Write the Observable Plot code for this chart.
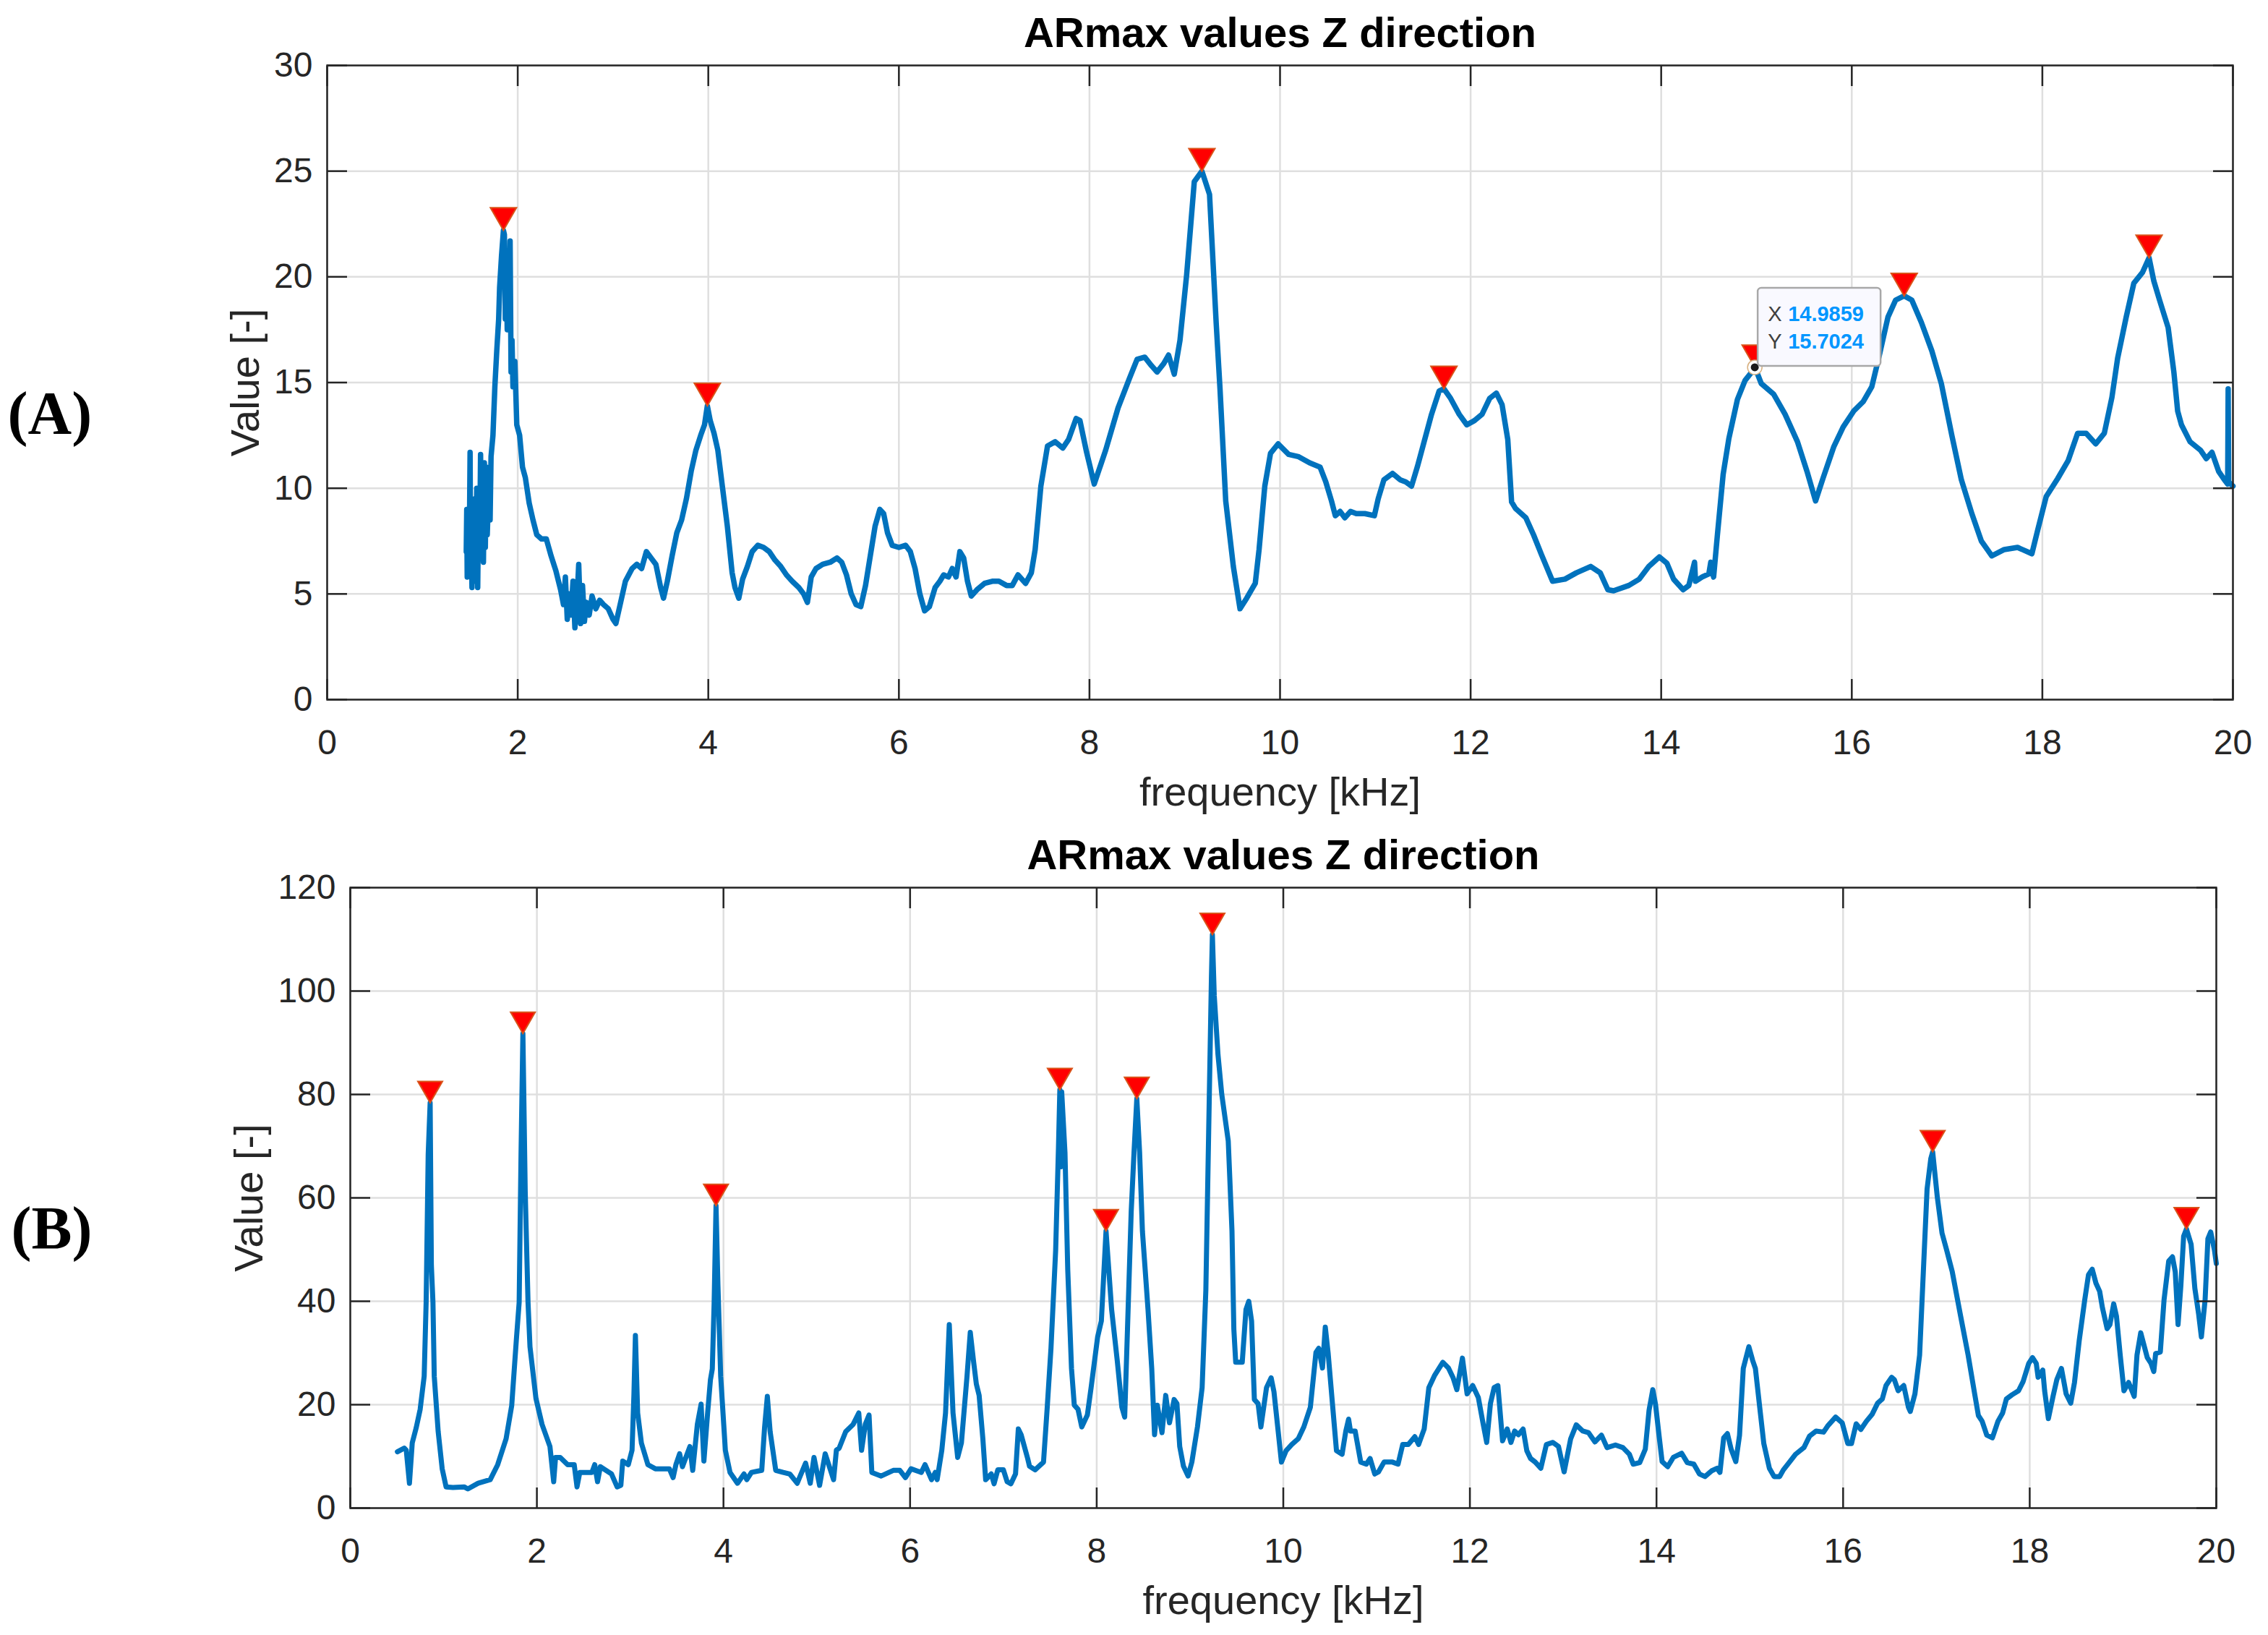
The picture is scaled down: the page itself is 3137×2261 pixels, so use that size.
<!DOCTYPE html>
<html>
<head>
<meta charset="utf-8">
<script src="https://cdn.jsdelivr.net/npm/d3@7"></script>
<script src="https://cdn.jsdelivr.net/npm/@observablehq/plot@0.6"></script>
<style>
  html, body { margin: 0; padding: 0; background: white; overflow: hidden; }
  #chart svg { display: block; }
</style>
</head>
<body>
<div id="chart"></div>
<script>
// ---- panel A: frequency [kHz] / value
const freqA = [1.46,1.465,1.47,1.48,1.49,1.50,1.505,1.51,1.52,1.53,1.54,1.55,1.56,1.57,1.58,1.59,1.60,1.61,1.62,1.63,1.64,1.65,1.66,1.67,1.68,1.70,1.71,1.72,1.74,1.76,1.78,1.80,1.81,1.83,1.85,1.86,1.87,1.88,1.89,1.91,1.92,1.93,1.94,1.95,1.97,1.99,2.02,2.05,2.08,2.12,2.16,2.20,2.25,2.30,2.35,2.40,2.45,2.48,2.50,2.52,2.54,2.56,2.58,2.60,2.62,2.64,2.66,2.68,2.70,2.72,2.75,2.78,2.82,2.86,2.90,2.95,3.00,3.03,3.08,3.13,3.20,3.25,3.30,3.35,3.40,3.45,3.50,3.53,3.57,3.62,3.67,3.72,3.77,3.82,3.87,3.92,3.96,3.99,4.02,4.06,4.10,4.15,4.20,4.25,4.28,4.32,4.36,4.41,4.46,4.52,4.58,4.64,4.70,4.76,4.82,4.88,4.95,5.00,5.04,5.08,5.13,5.20,5.28,5.35,5.40,5.45,5.50,5.55,5.60,5.65,5.70,5.75,5.80,5.84,5.88,5.93,6.00,6.07,6.12,6.17,6.22,6.27,6.32,6.38,6.43,6.47,6.52,6.56,6.60,6.64,6.68,6.72,6.76,6.82,6.90,6.98,7.05,7.13,7.19,7.25,7.33,7.39,7.43,7.49,7.56,7.64,7.72,7.78,7.86,7.90,7.97,8.05,8.17,8.30,8.42,8.50,8.58,8.65,8.71,8.78,8.83,8.89,8.95,9.02,9.10,9.18,9.26,9.33,9.37,9.43,9.51,9.58,9.65,9.74,9.78,9.84,9.90,9.98,10.09,10.19,10.31,10.42,10.48,10.54,10.58,10.63,10.68,10.74,10.80,10.89,10.99,11.03,11.09,11.18,11.26,11.32,11.38,11.44,11.50,11.59,11.67,11.72,11.79,11.88,11.96,12.04,12.12,12.20,12.27,12.33,12.39,12.43,12.47,12.58,12.66,12.74,12.86,12.99,13.11,13.26,13.36,13.44,13.50,13.66,13.77,13.87,13.98,14.06,14.13,14.23,14.29,14.35,14.36,14.43,14.50,14.52,14.55,14.59,14.65,14.71,14.80,14.88,14.986,15.05,15.18,15.30,15.43,15.53,15.62,15.70,15.81,15.91,16.02,16.12,16.21,16.29,16.38,16.46,16.55,16.63,16.73,16.84,16.94,17.05,17.15,17.26,17.36,17.47,17.60,17.74,17.89,17.95,18.04,18.16,18.27,18.37,18.46,18.56,18.65,18.73,18.79,18.88,18.96,19.05,19.12,19.17,19.23,19.32,19.38,19.42,19.46,19.55,19.66,19.72,19.78,19.85,19.91,19.945,19.95,19.955,20.0];
const valueA = [7.0,9.0,5.8,8.5,6.0,11.7,6.2,9.0,5.3,8.8,5.6,9.5,6.5,10.0,5.3,9.8,6.8,11.6,7.0,9.5,6.5,11.2,7.2,11.0,7.8,10.5,8.5,11.5,12.5,14.8,16.5,18.0,19.5,21.0,22.2,22.0,18.0,20.5,17.5,19.0,21.7,15.5,17.0,14.8,16.0,13.0,12.5,11.0,10.5,9.3,8.5,7.8,7.6,7.6,6.8,6.1,5.2,4.5,5.8,3.8,5.0,4.0,5.6,3.4,4.5,6.4,3.6,5.4,3.7,4.6,4.0,4.9,4.3,4.7,4.5,4.3,3.8,3.6,4.6,5.6,6.2,6.4,6.2,7.0,6.7,6.4,5.3,4.8,5.6,6.8,7.9,8.5,9.5,10.8,11.8,12.5,13.0,13.9,13.2,12.6,11.8,10.0,8.2,6.0,5.3,4.8,5.7,6.3,7.0,7.3,7.2,7.0,6.6,6.3,5.9,5.6,5.3,5.0,4.6,5.8,6.2,6.4,6.5,6.7,6.5,5.9,5.0,4.5,4.4,5.4,6.8,8.2,9.0,8.8,7.9,7.3,7.2,7.3,7.0,6.2,5.0,4.2,4.4,5.3,5.6,5.9,5.8,6.2,5.8,7.0,6.7,5.6,4.9,5.2,5.5,5.6,5.6,5.4,5.4,5.9,5.5,6.0,7.1,10.1,12.0,12.2,11.9,12.3,13.3,13.2,11.7,10.2,11.8,13.8,15.2,16.1,16.2,15.8,15.5,15.9,16.3,15.4,17.0,20.1,24.5,25.0,23.9,17.8,14.7,9.4,6.3,4.3,4.8,5.5,7.1,10.1,11.65,12.1,11.6,11.5,11.2,11.0,10.3,9.4,8.7,8.9,8.6,8.9,8.8,8.8,8.7,9.5,10.4,10.7,10.4,10.3,10.1,11.0,12.0,13.5,14.6,14.7,14.25,13.5,13.0,13.2,13.5,14.25,14.5,13.95,12.3,9.35,9.05,8.6,7.8,6.9,5.6,5.7,6.0,6.3,6.0,5.2,5.15,5.4,5.7,6.3,6.75,6.45,5.7,5.2,5.4,6.5,5.6,5.8,5.95,6.5,5.8,7.8,10.65,12.35,14.2,15.1,15.7,14.95,14.45,13.5,12.2,10.8,9.4,10.5,11.95,12.9,13.65,14.1,14.8,16.3,18.1,18.9,19.1,18.9,17.85,16.5,14.95,12.5,10.4,8.8,7.5,6.8,7.1,7.2,6.9,8.0,9.6,10.45,11.3,12.6,12.6,12.1,12.6,14.3,16.15,18.1,19.7,20.2,20.9,19.8,18.9,17.6,15.5,13.65,13.0,12.2,11.8,11.4,11.7,10.8,10.4,10.2,14.7,10.3,10.1];
const peakFreqA = [1.85, 3.99, 9.18, 11.72, 14.986, 16.55, 19.12];
const peakValueA = [22.2, 13.9, 25.0, 14.7, 15.7, 19.1, 20.9];
const tipFreq = 14.9859;
const tipValue = 15.7024;

// ---- panel B
const freqB = [0.505,0.578,0.60,0.634,0.664,0.706,0.749,0.792,0.813,0.835,0.856,0.869,0.886,0.90,0.942,0.985,1.027,1.10,1.22,1.26,1.37,1.50,1.58,1.67,1.73,1.78,1.81,1.83,1.85,1.875,1.905,1.926,1.99,2.055,2.14,2.18,2.20,2.25,2.33,2.40,2.43,2.46,2.59,2.62,2.65,2.68,2.80,2.86,2.90,2.92,2.98,3.02,3.04,3.056,3.08,3.12,3.19,3.27,3.42,3.46,3.49,3.53,3.56,3.64,3.67,3.72,3.76,3.79,3.83,3.86,3.88,3.90,3.92,3.94,3.97,4.02,4.07,4.15,4.22,4.25,4.30,4.41,4.44,4.47,4.50,4.56,4.64,4.71,4.79,4.88,4.93,4.97,5.03,5.09,5.18,5.21,5.24,5.31,5.39,5.45,5.48,5.52,5.56,5.59,5.69,5.82,5.89,5.95,6.01,6.12,6.16,6.23,6.27,6.29,6.34,6.38,6.42,6.46,6.51,6.55,6.61,6.645,6.68,6.71,6.74,6.78,6.81,6.87,6.90,6.94,7.00,7.04,7.08,7.13,7.16,7.19,7.26,7.28,7.34,7.43,7.47,7.51,7.56,7.59,7.605,7.615,7.625,7.66,7.69,7.73,7.76,7.80,7.84,7.90,7.94,8.01,8.05,8.10,8.16,8.22,8.27,8.30,8.33,8.37,8.40,8.43,8.46,8.49,8.55,8.59,8.62,8.65,8.70,8.74,8.78,8.83,8.86,8.89,8.93,8.98,9.02,9.08,9.13,9.17,9.20,9.23,9.24,9.26,9.30,9.34,9.41,9.45,9.47,9.49,9.56,9.60,9.63,9.66,9.69,9.73,9.76,9.82,9.87,9.90,9.94,9.98,10.03,10.09,10.16,10.22,10.29,10.35,10.38,10.42,10.45,10.48,10.53,10.57,10.63,10.67,10.70,10.72,10.77,10.83,10.89,10.93,10.98,11.02,11.08,11.17,11.23,11.28,11.34,11.41,11.45,11.51,11.56,11.62,11.71,11.77,11.82,11.86,11.92,11.97,12.03,12.09,12.14,12.18,12.22,12.26,12.30,12.35,12.40,12.44,12.48,12.52,12.57,12.61,12.65,12.70,12.76,12.82,12.89,12.95,13.01,13.08,13.14,13.21,13.27,13.34,13.41,13.47,13.56,13.64,13.71,13.75,13.82,13.88,13.92,13.96,13.99,14.03,14.06,14.12,14.18,14.27,14.33,14.40,14.46,14.52,14.59,14.65,14.68,14.72,14.76,14.80,14.85,14.89,14.93,14.99,15.03,15.06,15.11,15.15,15.21,15.26,15.32,15.36,15.43,15.49,15.58,15.64,15.71,15.79,15.84,15.92,15.99,16.05,16.09,16.14,16.19,16.25,16.31,16.37,16.42,16.46,16.52,16.55,16.59,16.65,16.70,16.72,16.77,16.82,16.86,16.90,16.94,16.96,17.01,17.06,17.11,17.17,17.26,17.34,17.41,17.45,17.49,17.54,17.60,17.66,17.71,17.75,17.81,17.88,17.93,17.99,18.03,18.07,18.09,18.14,18.16,18.20,18.25,18.29,18.34,18.39,18.44,18.48,18.53,18.59,18.63,18.67,18.71,18.75,18.78,18.83,18.86,18.90,18.93,18.97,19.01,19.06,19.12,19.15,19.19,19.26,19.30,19.33,19.35,19.40,19.44,19.49,19.53,19.56,19.59,19.62,19.65,19.68,19.73,19.77,19.81,19.84,19.88,19.91,19.94,19.98,20.0];
const valueB = [10.9,11.6,11.2,4.8,12.6,15.5,19.1,25.5,39.8,68.4,78.4,47,39.8,25.5,14.8,7.6,4.1,4.0,4.1,3.7,4.8,5.5,8.4,13.4,19.8,32.6,39.8,68.4,91.8,61.2,39.8,31.2,21.2,16.2,11.9,5.1,9.8,9.8,8.4,8.4,4.1,6.9,6.9,8.4,5.1,8.0,6.6,4.1,4.4,9.1,8.4,11.2,21.9,33.4,18.4,12.6,8.4,7.6,7.6,5.9,8.4,10.5,8.0,11.9,7.3,16.2,20.1,9.1,18.4,24.8,26.9,39.8,58.5,43.4,25.5,11.2,6.9,4.8,6.6,5.5,6.9,7.3,15.5,21.6,14.8,7.3,6.9,6.6,4.8,8.7,4.8,9.8,4.4,10.5,5.5,11.2,11.6,14.8,16.2,18.4,11.2,16.2,18.0,6.9,6.2,7.3,7.3,5.9,7.6,6.9,8.4,5.5,6.9,5.5,11.2,18.4,35.5,18.4,9.8,12.6,25.5,34.0,28.4,24.0,21.8,13.4,5.5,6.6,4.7,7.4,7.4,5.1,4.7,6.6,15.3,14.2,9.6,8.1,7.4,8.9,19.5,30.9,49.8,69.5,80.9,66,80.5,68.8,46,27,19.9,19.1,15.7,18.0,23.3,33.1,36.2,53.6,38.4,28.6,19.5,17.6,34.6,57.4,68.8,79.2,68.8,53.6,38.4,27,14.2,19.9,14.6,21.8,16.5,21.0,20.2,11.9,8.1,6.2,8.9,15.7,23.3,42.2,72.6,102.9,110.9,99.1,87.7,80.1,71.0,53.6,34.6,28.2,28.2,38.4,40.0,36.2,21.0,20.2,15.7,23.3,25.2,22.5,15.7,8.9,11.1,12.3,13.4,15.7,19.5,30.1,30.9,27.1,35.0,30.1,19.5,11.1,10.4,14.9,17.2,14.9,14.9,8.9,8.5,9.6,6.6,7.0,8.9,8.9,8.5,12.3,12.3,13.8,12.3,15.3,23.3,25.6,28.2,27.1,25.2,22.9,29.0,22.1,23.7,21.4,16.5,12.7,20.2,23.3,23.7,13.0,15.3,12.7,14.9,14.2,15.3,11.1,9.6,8.9,7.7,12.3,12.7,11.9,7.0,13.4,16.1,14.9,14.6,12.8,14.1,11.7,12.2,11.7,10.4,8.5,8.8,11.4,18.9,22.9,20.0,13.6,9.0,8.0,9.8,10.6,8.8,8.5,6.6,6.1,7.2,7.7,6.9,13.6,14.4,11.4,9.0,14.1,27.0,31.2,28.6,27.0,18.9,12.5,7.7,6.1,6.1,7.4,9.0,10.4,11.7,13.9,14.9,14.7,16.0,17.6,16.5,12.5,12.5,16.3,15.2,16.8,18.1,20.3,21.1,23.7,25.3,24.8,22.7,23.7,19.5,18.7,22.1,29.6,45.7,61.7,67.6,68.9,60.1,53.2,49.9,45.7,37.1,29.6,22.1,17.9,16.8,14.1,13.6,16.8,18.4,21.1,21.9,22.7,24.5,28.0,29.1,28.0,25.3,26.7,22.7,17.3,21.6,24.8,27.0,22.1,20.3,24.3,32.3,40.3,45.1,46.2,43.5,41.9,38.7,34.7,35.5,39.5,37.1,29.6,22.7,24.3,21.6,29.6,33.9,29.1,28.0,26.4,29.9,30.2,40.3,47.8,48.6,45.7,35.5,43.0,52.6,54.0,51.0,42.5,37.6,33.1,40.3,52.1,53.4,49.9,47.3];
const peakFreqB = [0.856, 1.85, 3.92, 7.605, 8.10, 8.43, 9.24, 16.96, 19.68];
const peakValueB = [78.4, 91.8, 58.5, 80.9, 53.6, 79.2, 110.9, 68.9, 54.0];

// ticks
const xTicks = [0, 2, 4, 6, 8, 10, 12, 14, 16, 18, 20];
const yTicksA = [0, 5, 10, 15, 20, 25, 30];
const yTicksB = [0, 20, 40, 60, 80, 100, 120];

const titleText = "ARmax values Z direction";
const xLabel = "frequency [kHz]";
const yLabel = "Value [-]";

const lineBlue = "#0072BD";
const gridGray = "#dfdfdf";
const axisDark = "#262626";
const sans = "'Liberation Sans', Arial, Helvetica, sans-serif";

// inverted triangle with its tip on the point (like findpeaks' markers)
const downTriangle = {
  draw(ctx, size) {
    const r = Math.sqrt(size / Math.PI);
    const h = r * Math.sqrt(3);
    ctx.moveTo(0, 0);
    ctx.lineTo(-r, -h);
    ctx.lineTo(r, -h);
    ctx.closePath();
  }
};

function zip(fs, vs) { return fs.map((f, i) => ({f, v: vs[i]})); }

// MATLAB style datatip drawn next to the picked point
function dataTip(i, s) {
  const sc = s && s.x ? s : i;
  const px = sc.x(tipFreq), py = sc.y(tipValue);
  const g = d3.create("svg:g").attr("text-anchor", "start");
  g.append("circle").attr("cx", px).attr("cy", py).attr("r", 10)
    .attr("fill", "white").attr("stroke", "#d8b080").attr("stroke-width", 1.5);
  g.append("circle").attr("cx", px).attr("cy", py).attr("r", 5.5).attr("fill", "#1a1a1a");
  g.append("rect").attr("x", px + 4).attr("y", py - 110).attr("width", 170).attr("height", 108)
    .attr("rx", 5).attr("fill", "#f9f9ff").attr("stroke", "#a8a8a8").attr("stroke-width", 2.5);
  const rows = [["X", tipFreq.toFixed(4), -64], ["Y", tipValue.toFixed(4), -26]];
  for (const [k, v, dy] of rows) {
    g.append("text").attr("x", px + 18).attr("y", py + dy).attr("font-size", 29)
      .attr("text-anchor", "start").attr("font-family", sans).attr("fill", "#404040").text(k);
    g.append("text").attr("x", px + 46).attr("y", py + dy).attr("font-size", 29)
      .attr("text-anchor", "start").attr("font-family", sans).attr("font-weight", "bold")
      .attr("fill", "#0096ff").text(v);
  }
  return g.node();
}

function panel({data, peaks, yTicks, yMax, height, margins, letter, letterDx, letterDy, ylabDx, peakR, lineW, extra}) {
  const [mt, mr, mb, ml] = margins;
  return Plot.plot({
    width: 3137,
    height,
    marginTop: mt, marginRight: mr, marginBottom: mb, marginLeft: ml,
    style: {fontFamily: sans, fontSize: "48px", color: axisDark, background: "white"},
    x: {domain: [0, 20]},
    y: {domain: [0, yMax]},
    marks: [
      Plot.gridX(xTicks, {stroke: gridGray, strokeOpacity: 1, strokeWidth: 2.5}),
      Plot.gridY(yTicks, {stroke: gridGray, strokeOpacity: 1, strokeWidth: 2.5}),
      Plot.line(data, {x: "f", y: "v", stroke: lineBlue, strokeWidth: lineW, strokeLinejoin: "round"}),
      Plot.dot(peaks, {x: "f", y: "v", symbol: downTriangle, r: peakR, fill: "#ff0000", stroke: "#d95319", strokeWidth: 2}),
      ...(extra || []),
      // inward ticks on all four sides
      Plot.axisX(xTicks, {anchor: "bottom", tickSize: -28, tickFormat: () => "", label: null, strokeWidth: 2.5}),
      Plot.axisX(xTicks, {anchor: "top", tickSize: -28, tickFormat: () => "", label: null, strokeWidth: 2.5}),
      Plot.axisY(yTicks, {anchor: "left", tickSize: -28, tickFormat: () => "", label: null, strokeWidth: 2.5}),
      Plot.axisY(yTicks, {anchor: "right", tickSize: -28, tickFormat: () => "", label: null, strokeWidth: 2.5}),
      // tick labels
      Plot.axisX(xTicks, {anchor: "bottom", tickSize: 0, tickPadding: 41, fontSize: 48, label: null, tickFormat: d => String(d)}),
      Plot.axisY(yTicks, {anchor: "left", tickSize: 0, tickPadding: 20, fontSize: 48, label: null, tickFormat: d => String(d)}),
      Plot.frame({stroke: axisDark, strokeWidth: 2.5}),
      Plot.text([titleText], {frameAnchor: "top", dy: -26, lineAnchor: "bottom", fontSize: 58, fontWeight: "bold", fill: "black"}),
      Plot.text([xLabel], {frameAnchor: "bottom", dy: 146, lineAnchor: "bottom", fontSize: 56, fill: axisDark}),
      Plot.text([yLabel], {frameAnchor: "left", dx: ylabDx, rotate: -90, textAnchor: "middle", lineAnchor: "bottom", fontSize: 56, fill: axisDark}),
      Plot.text([letter], {frameAnchor: "left", dx: letterDx, dy: letterDy, textAnchor: "start", lineAnchor: "bottom",
        fontSize: 84, fontWeight: "bold", fontFamily: "'Liberation Serif', 'Times New Roman', serif", fill: "black"})
    ]
  });
}

const chartA = panel({
  data: zip(freqA, valueA), peaks: zip(peakFreqA, peakValueA),
  yTicks: yTicksA, yMax: 30, height: 1130, margins: [90, 49, 163, 452],
  letter: "(A)", letterDx: -442, letterDy: 71, ylabDx: -95, peakR: 18, lineW: 7.5,
  extra: [dataTip]
});
const chartB = panel({
  data: zip(freqB, valueB), peaks: zip(peakFreqB, peakValueB),
  yTicks: yTicksB, yMax: 120, height: 1131, margins: [97, 72, 176, 484],
  letter: "(B)", letterDx: -469, letterDy: 70, ylabDx: -122, peakR: 17, lineW: 7
});

d3.select('#chart').append(() => chartA);
d3.select('#chart').append(() => chartB);
</script>
</body>
</html>
